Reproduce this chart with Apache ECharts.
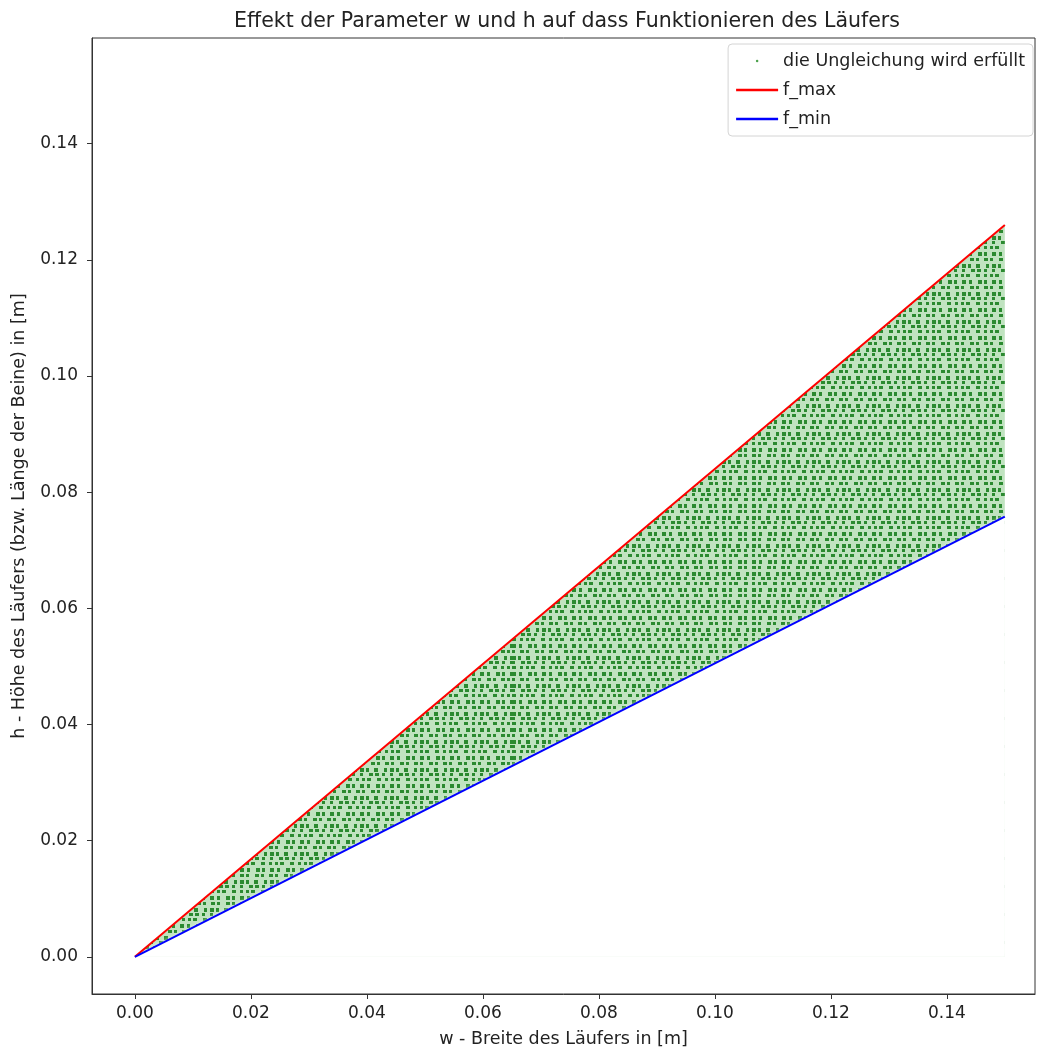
<!DOCTYPE html>
<html>
<head>
<meta charset="utf-8">
<script src="https://cdn.jsdelivr.net/npm/echarts@6/dist/echarts.min.js"></script>
<style>
  html, body { margin: 0; padding: 0; background: #fff; }
  #chart-div { width: 1040px; height: 1053px; }
</style>
</head>
<body>
<div id="chart-div"></div>
<script>
// Grenzlinien (w in m, h in m)
const wWerte = [0, 0.15]
const fMax = [0, 0.126]
const fMin = [0, 0.0758]
// Achsenbeschriftungen
const xTicks = [0, 0.02, 0.04, 0.06, 0.08, 0.10, 0.12, 0.14]
const yTicks = [0, 0.02, 0.04, 0.06, 0.08, 0.10, 0.12, 0.14]

const font = 'DejaVu Sans'
const frame = '#333'
const txt = '#222'

let myChart = echarts.init(document.getElementById('chart-div'))

const fMaxData = wWerte.map((w, i) => [w, fMax[i]])
const fMinData = wWerte.map((w, i) => [w, fMin[i]])

const option = {
    animation: false,
    textStyle: { fontFamily: font },
    title: {
        text: 'Effekt der Parameter w und h auf dass Funktionieren des Läufers',
        left: 562,
        textAlign: 'center',
        top: 6,
        textStyle: { fontSize: 20.5, fontWeight: 'normal', color: txt, fontFamily: font }
    },
    legend: {
        orient: 'vertical',
        right: 7,
        top: 44,
        itemWidth: 42,
        itemHeight: 2.5,
        itemGap: 11,
        padding: [8, 8, 8, 8],
        backgroundColor: '#fff',
        borderColor: '#d4d4d4',
        borderWidth: 1,
        borderRadius: 4,
        textStyle: { fontSize: 17.5, color: txt, fontFamily: font },
        data: [
            { name: 'die Ungleichung wird erfüllt', icon: 'circle', itemStyle: { color: '#1f8a1f' } },
            { name: 'f_max', icon: 'rect' },
            { name: 'f_min', icon: 'rect' }
        ]
    },
    grid: {
        left: 92, right: 5, top: 38, bottom: 58,
        show: true, borderColor: frame, borderWidth: 1
    },
    xAxis: {
        type: 'value',
        min: -0.0074,
        max: 0.1552,
        name: 'w - Breite des Läufers in [m]',
        nameLocation: 'middle',
        nameGap: 36,
        nameTextStyle: { fontSize: 17.5, color: txt },
        splitLine: { show: false },
        axisLine: { show: true, onZero: false, lineStyle: { color: frame } },
        axisTick: { show: true, length: 5, customValues: xTicks, lineStyle: { color: frame } },
        axisLabel: {
            customValues: xTicks, margin: 11, fontSize: 17, color: txt,
            formatter: v => v.toFixed(2)
        }
    },
    yAxis: {
        type: 'value',
        min: -0.0064,
        max: 0.1582,
        name: 'h - Höhe des Läufers (bzw. Länge der Beine) in [m]',
        nameLocation: 'middle',
        nameGap: 64,
        nameTextStyle: { fontSize: 17.5, color: txt },
        splitLine: { show: false },
        axisLine: { show: true, onZero: false, lineStyle: { color: frame } },
        axisTick: { show: true, length: 5, customValues: yTicks, lineStyle: { color: frame } },
        axisLabel: {
            customValues: yTicks, margin: 14, fontSize: 17, color: txt,
            formatter: v => v.toFixed(2)
        }
    },
    series: [
        {
            name: 'die Ungleichung wird erfüllt',
            type: 'scatter',
            symbolSize: 3,
            itemStyle: { color: '#1f8a1f' },
            data: []
        },
        { // Fläche unter f_max, mit Punktmuster
            name: 'bereich',
            type: 'line',
            data: fMaxData,
            symbol: 'none',
            z: 1,
            lineStyle: { opacity: 0 },
            areaStyle: { color: '#c0e3c0', opacity: 1 },
            itemStyle: {
                color: '#c0e3c0',
                decal: {
                    symbol: 'rect',
                    symbolSize: 1,
                    color: '#2b8a30',
                    dashArrayX: [[4, 3, 3, 6, 4, 2, 3, 5], [3, 5, 4, 2, 3, 6, 4, 2], [4, 2, 3, 5, 4, 6, 3, 3], [3, 6, 4, 2, 4, 3, 3, 5], [4, 4, 3, 3, 3, 2, 4, 6]],
                    dashArrayY: [4, 2, 3, 3, 4, 1, 3, 2, 3, 3]
                }
            }
        },
        { // Fläche unter f_min wird weiß abgedeckt
            name: 'abdeckung',
            type: 'line',
            data: fMinData,
            symbol: 'none',
            z: 2,
            lineStyle: { opacity: 0 },
            areaStyle: { color: '#ffffff', opacity: 1, shadowColor: '#ffffff', shadowBlur: 4 },
            itemStyle: { color: '#ffffff' }
        },
        {
            name: 'f_max',
            type: 'line',
            data: fMaxData,
            symbol: 'none',
            z: 4,
            lineStyle: { color: '#ff0000', width: 2 },
            itemStyle: { color: '#ff0000' }
        },
        {
            name: 'f_min',
            type: 'line',
            data: fMinData,
            symbol: 'none',
            z: 4,
            lineStyle: { color: '#0000ff', width: 2 },
            itemStyle: { color: '#0000ff' }
        }
    ]
}

myChart.setOption(option)
</script>
</body>
</html>
